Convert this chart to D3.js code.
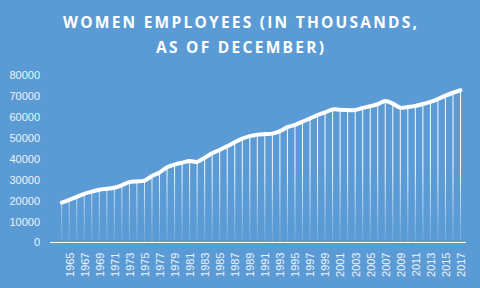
<!DOCTYPE html>
<html>
<head>
<meta charset="utf-8">
<script src="https://cdn.jsdelivr.net/npm/d3@7/dist/d3.min.js"></script>
<style>
  html, body { margin: 0; padding: 0; background: #5b9bd5; }
  svg { display: block; }
  .tick text { font-family: "Liberation Sans", Arial, sans-serif; font-size: 11px; fill: #eef3f9; }
</style>
</head>
<body>
<svg id="chart"></svg>
<script>
const chartSize = { width: 480, height: 288 };

const titleLines = ["WOMEN EMPLOYEES (IN THOUSANDS,", "AS OF DECEMBER)"];

const years = [
  1964, 1965, 1966, 1967, 1968, 1969, 1970, 1971, 1972, 1973,
  1974, 1975, 1976, 1977, 1978, 1979, 1980, 1981, 1982, 1983,
  1984, 1985, 1986, 1987, 1988, 1989, 1990, 1991, 1992, 1993,
  1994, 1995, 1996, 1997, 1998, 1999, 2000, 2001, 2002, 2003,
  2004, 2005, 2006, 2007, 2008, 2009, 2010, 2011, 2012, 2013,
  2014, 2015, 2016, 2017
];

const employees = [
  18900, 20200, 21600, 23100, 24100, 25000, 25500, 26000, 27200, 28700,
  29000, 29400, 31600, 33300, 35800, 37100, 38000, 38800, 38400, 40400,
  42500, 44100, 45900, 47800, 49500, 50700, 51400, 51700, 51900, 53100,
  55000, 56100, 57700, 59200, 60800, 62100, 63500, 63300, 63200, 63200,
  64200, 65000, 66000, 67500, 66300, 64300, 64700, 65200, 66100, 67100,
  68500, 70100, 71500, 72700
];

const xTickLabels = [
  1965, 1967, 1969, 1971, 1973, 1975, 1977, 1979, 1981, 1983,
  1985, 1987, 1989, 1991, 1993, 1995, 1997, 1999, 2001, 2003,
  2005, 2007, 2009, 2011, 2013, 2015, 2017
];

const yTicks = [0, 10000, 20000, 30000, 40000, 50000, 60000, 70000, 80000];

const data = years.map((yr, i) => ({ year: yr, value: employees[i] }));

const plot = { left: 50, right: 466, top: 75, bottom: 242 };

const svg = d3.select('#chart')
  .attr("width", chartSize.width)
  .attr("height", chartSize.height);

svg.append("rect")
  .attr("width", chartSize.width)
  .attr("height", chartSize.height)
  .attr("fill", "#5b9bd5");

// title, letter-spaced like the original
svg.append("g")
  .attr("class", "title")
  .selectAll("text")
  .data(titleLines)
  .join("text")
  .attr("x", 240)
  .attr("y", (d, i) => 28 + i * 24.5)
  .attr("text-anchor", "middle")
  .attr("textLength", (d, i) => i === 0 ? 354 : 168)
  .attr("lengthAdjust", "spacing")
  .style("font-family", "'Open Sans', 'Liberation Sans', sans-serif")
  .style("font-weight", "700")
  .style("font-size", "15.5px")
  .attr("fill", "#ffffff")
  .text(d => d);

const x = d3.scalePoint()
  .domain(years)
  .range([61.7, 460.5]);

const y = d3.scaleLinear()
  .domain([0, 80000])
  .range([plot.bottom, plot.top]);

// fading gradient for the drop lines
const defs = svg.append("defs");
const grad = defs.append("linearGradient")
  .attr("id", "dropFade")
  .attr("gradientUnits", "userSpaceOnUse")
  .attr("x1", 0).attr("x2", 0)
  .attr("y1", 170).attr("y2", plot.bottom);
grad.append("stop").attr("offset", "0").attr("stop-color", "#fff").attr("stop-opacity", 0.95);
grad.append("stop").attr("offset", "1").attr("stop-color", "#fff").attr("stop-opacity", 0.08);

// y axis (labels only)
const yAxis = d3.axisLeft(y)
  .tickValues(yTicks)
  .tickSize(0)
  .tickPadding(0)
  .tickFormat(d3.format("d"));

svg.append("g")
  .attr("class", "y-axis")
  .attr("transform", "translate(40,0)")
  .call(yAxis)
  .call(g => g.select(".domain").remove())
  .selectAll("text")
  .attr("dy", "0.36em");

// drop lines
svg.append("g")
  .attr("class", "drops")
  .selectAll("line")
  .data(data)
  .join("line")
  .attr("x1", d => x(d.year))
  .attr("x2", d => x(d.year))
  .attr("y1", d => y(d.value))
  .attr("y2", plot.bottom)
  .attr("stroke", "url(#dropFade)")
  .attr("stroke-width", 1);

// x axis
const xAxis = d3.axisBottom(x)
  .tickValues(xTickLabels)
  .tickSize(0)
  .tickPadding(0);

const xg = svg.append("g")
  .attr("class", "x-axis")
  .attr("transform", `translate(0,${plot.bottom})`)
  .call(xAxis);

xg.select(".domain").remove();
xg.append("line")
  .attr("x1", plot.left)
  .attr("x2", plot.right)
  .attr("y1", 0.5)
  .attr("y2", 0.5)
  .attr("stroke", "#ffffff")
  .attr("stroke-width", 1);

xg.selectAll(".tick text")
  .attr("transform", "rotate(-90)")
  .attr("text-anchor", "end")
  .attr("x", -10.5)
  .attr("y", 0)
  .attr("dy", "0.35em");

// line
const line = d3.line()
  .x(d => x(d.year))
  .y(d => y(d.value))
  .curve(d3.curveCatmullRom.alpha(0.5));

svg.append("path")
  .attr("class", "employees")
  .attr("d", line(data))
  .attr("fill", "none")
  .attr("stroke", "#ffffff")
  .attr("stroke-width", 4)
  .attr("stroke-linecap", "round")
  .attr("stroke-linejoin", "round");
</script>
</body>
</html>
